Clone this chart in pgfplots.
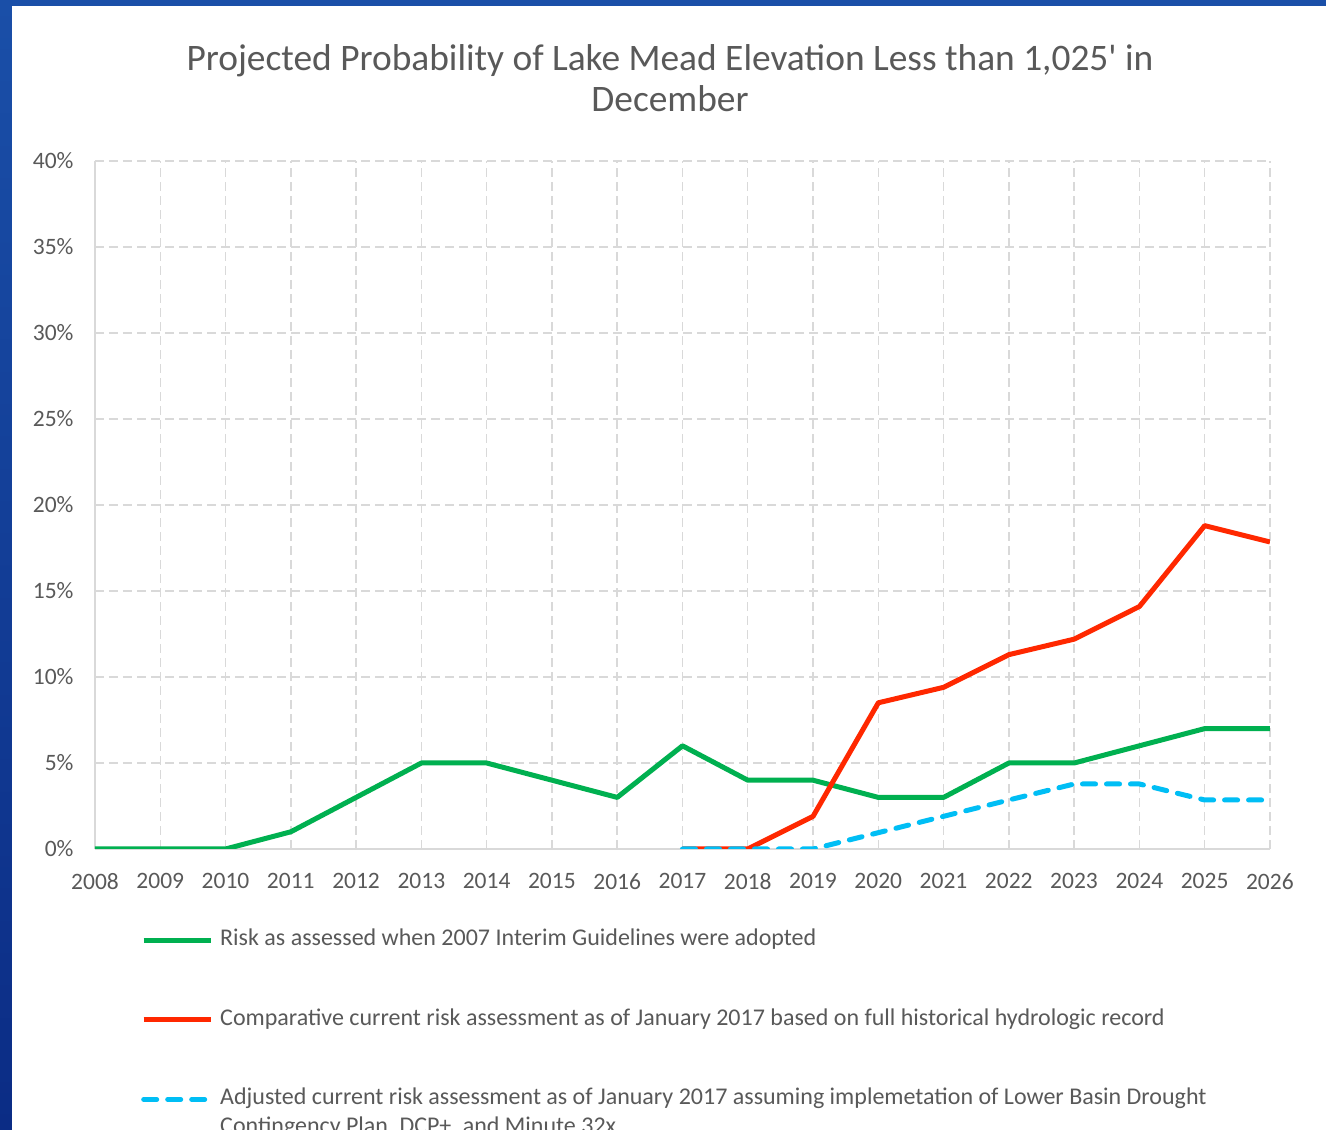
\documentclass[border=0pt]{standalone}
\usepackage{fontspec}
\setmainfont{Carlito}
\usepackage{pgfplots}
\pgfplotsset{compat=1.18}
\definecolor{txt}{HTML}{595959}
\definecolor{grn}{RGB}{0,176,80}
\definecolor{rd}{RGB}{255,40,0}
\definecolor{bl}{RGB}{0,190,245}
\definecolor{gridc}{HTML}{D9D9D9}
\definecolor{bgA}{HTML}{1A4FA8}
\definecolor{bgB}{HTML}{0B2C85}
\begin{document}
\begin{tikzpicture}[x=1pt,y=1pt]
\path[use as bounding box] (0,0) rectangle (1326,1130);
\clip (0,0) rectangle (1326,1130);
\shade[top color=bgA, bottom color=bgB] (0,0) rectangle (1326,1130);
\fill[white] (12,0) rectangle (1326,1124);
\node[anchor=base, text=txt, inner sep=0pt, font=\fontsize{37.4}{44}\selectfont] at (670,1059) {Projected Probability of Lake Mead Elevation Less than 1,025\textquotesingle{} in};
\node[anchor=base, text=txt, inner sep=0pt, font=\fontsize{37.4}{44}\selectfont] at (670,1018) {December};
\begin{axis}[
  at={(95pt,281pt)}, anchor=south west, scale only axis,
  width=1175pt, height=688pt,
  xmin=2008, xmax=2026, ymin=0, ymax=40,
  xtick={2008,2009,...,2026}, ytick={0,5,...,40},
  axis x line=bottom, axis y line=left,
  axis line style={gridc, line width=1.5pt, -},
  grid=major,
  grid style={gridc, line width=1.5pt, dash pattern=on 9pt off 5pt},
  major tick length=0pt,
  tick style={draw=none},
  /pgf/number format/assume math mode=true,
  /pgf/number format/1000 sep={},
  ticklabel style={font=\fontsize{23.5}{28}\selectfont, text=txt},
  yticklabel={\pgfmathprintnumber{\tick}\%},
  xticklabel style={yshift=-21pt},
  yticklabel style={xshift=-18pt},
  legend image code/.code={\draw[#1] (0pt,0pt) -- (67pt,0pt);},
  legend style={at={(0.0366,-0.1145)}, anchor=north west, draw=none, fill=none,
    font=\fontsize{24}{28.5}\selectfont, text=txt, row sep=58.5pt,
    nodes={inner sep=0pt, text height=16pt, text depth=5pt},
    /tikz/every odd column/.append style={column sep=7pt}},
  legend cell align=left,
]
\addplot[grn, line width=5pt, line join=round] coordinates {
(2008,0) (2009,0) (2010,0) (2011,1) (2012,3) (2013,5) (2014,5) (2015,4) (2016,3)
(2017,6) (2018,4) (2019,4) (2020,3) (2021,3) (2022,5) (2023,5) (2024,6) (2025,7) (2026,7)};
\addlegendentry{Risk as assessed when 2007 Interim Guidelines were adopted}
\addplot[rd, line width=5pt, line join=round] coordinates {
(2017,0) (2018,0) (2019,1.9) (2020,8.5) (2021,9.4) (2022,11.3) (2023,12.2) (2024,14.1) (2025,18.8) (2026,17.85)};
\addlegendentry{Comparative current risk assessment as of January 2017 based on full historical hydrologic record}
\addplot[bl, line width=5pt, line join=round, line cap=round, dash pattern=on 13pt off 11pt] coordinates {
(2017,0) (2018,0) (2019,0) (2020,0.95) (2021,1.9) (2022,2.85) (2023,3.78) (2024,3.78) (2025,2.85) (2026,2.85)};
\addlegendentry{\parbox[t]{1100pt}{\raggedright Adjusted current risk assessment as of January 2017 assuming implemetation of Lower Basin Drought\\[0pt]Contingency Plan, DCP+, and Minute 32x}}
\end{axis}
\end{tikzpicture}
\end{document}
